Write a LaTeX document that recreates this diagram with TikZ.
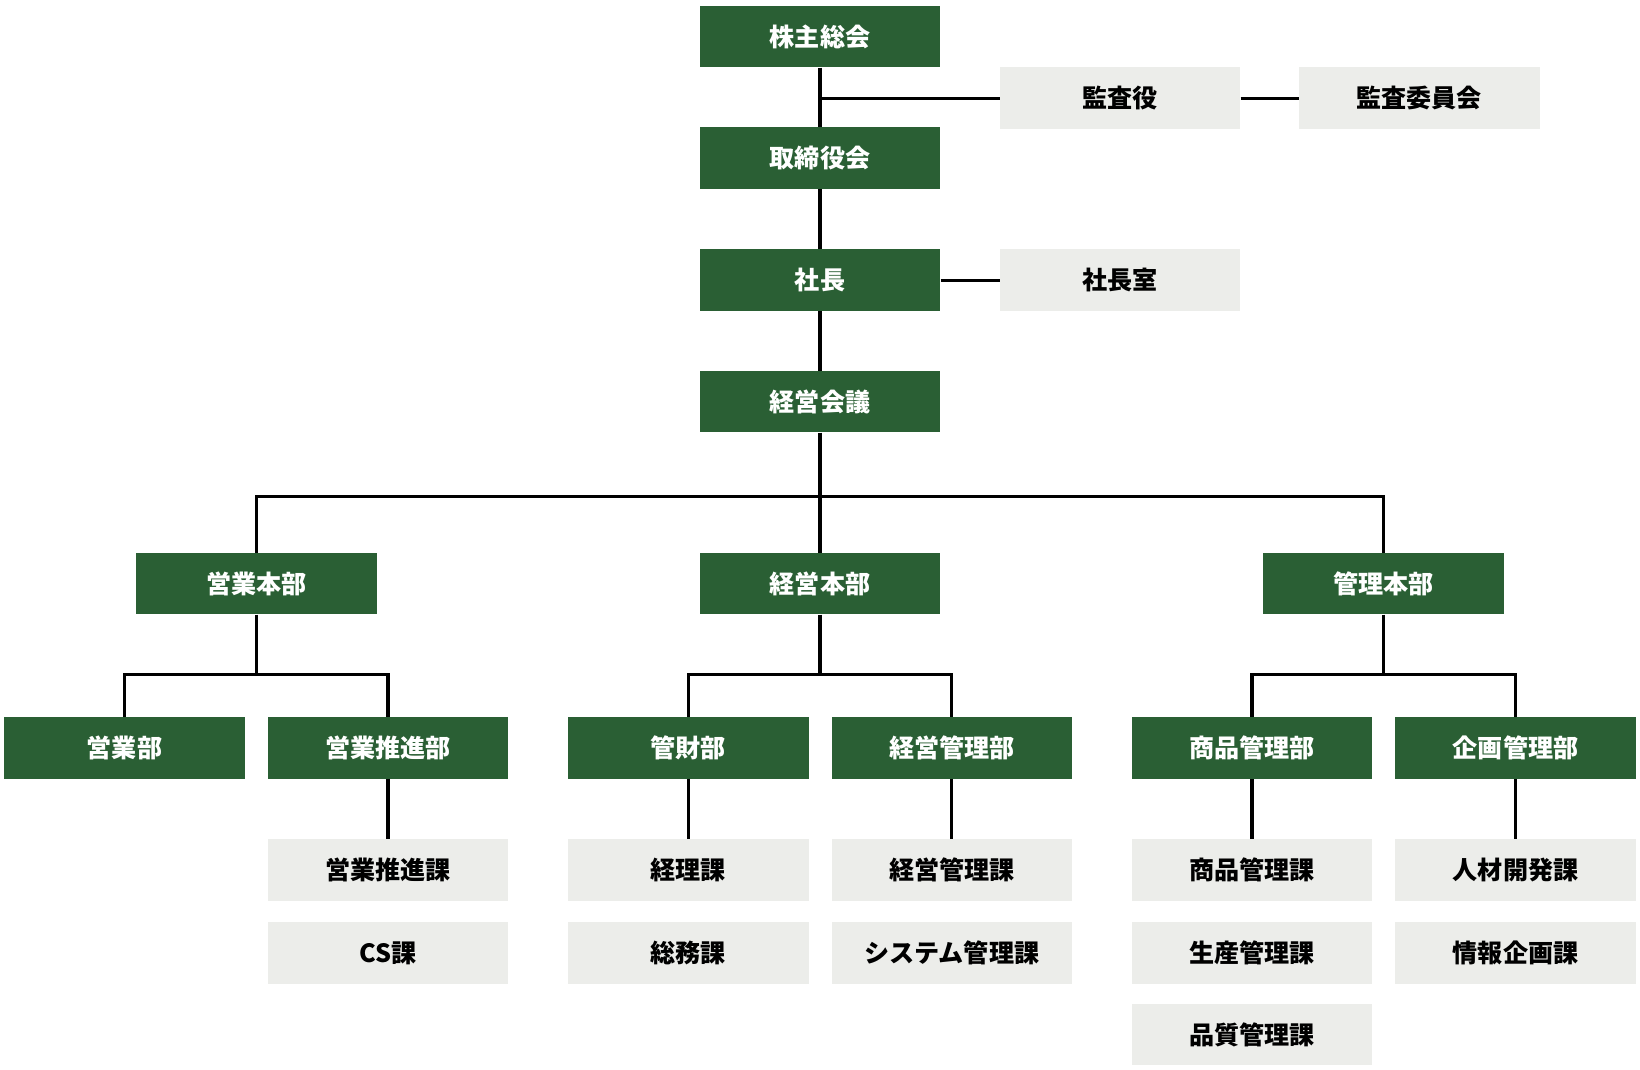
\documentclass[tikz,border=0pt]{standalone}
\usepackage{fontspec}
\setmainfont{Noto Sans CJK JP}
\usetikzlibrary{positioning}
\definecolor{boxgreen}{HTML}{2A5F34}
\definecolor{boxgray}{HTML}{ECEDEA}
\tikzset{
  org/.style={minimum width=230pt, minimum height=59pt, inner sep=0pt, font=\fontsize{24}{28}\selectfont\bfseries},
  head/.style={org, fill=boxgreen, text=white},
  sect/.style={org, fill=boxgray, text=black},
  link/.style={line width=3pt, black}
}
\begin{document}
\begin{tikzpicture}[x=1pt, y=-1pt]
\useasboundingbox (0,0) rectangle (1568,1023);
    % top of the company
    \node [head] (k1) at (784,35) {株主総会};
    \node [head] (k2) at (784,151) {取締役会};
    \node [head] (k3) at (784,268) {社長};
    \node [head] (k4) at (784,384) {経営会議};
    \node [sect] (a1) at (1071,94) {監査役};
    \node [sect] (a2) at (1357,94) {監査委員会};
    \node [sect] (a3) at (1071,268) {社長室};
    \coordinate (j1) at (784,94);

    % divisions
    \node [head] (b1) at (245,558) {営業本部};
    \node [head] (b2) at (784,558) {経営本部};
    \node [head] (b3) at (1323,558) {管理本部};

    % departments
    \node [head] (d1) at (119,715) {営業部};
    \node [head] (d2) at (371,715) {営業推進部};
    \node [head] (d3) at (658,715) {管財部};
    \node [head] (d4) at (910,715) {経営管理部};
    \node [head] (d5) at (1197,715) {商品管理部};
    \node [head] (d6) at (1449,715) {企画管理部};

    % sections
    \node [sect] (s1) at (371,832) {営業推進課};
    \node [sect] (s2) at (371,911) {CS課};
    \node [sect] (s3) at (658,832) {経理課};
    \node [sect] (s4) at (658,911) {総務課};
    \node [sect] (s5) at (910,832) {経営管理課};
    \node [sect] (s6) at (910,911) {システム管理課};
    \node [sect] (s7) at (1197,832) {商品管理課};
    \node [sect] (s8) at (1197,911) {生産管理課};
    \node [sect] (s9) at (1197,989) {品質管理課};
    \node [sect] (s10) at (1449,832) {人材開発課};
    \node [sect] (s11) at (1449,911) {情報企画課};

    \begin{scope}[link]
    \draw (k1) -- (k2) (k2) -- (k3) (k3) -- (k4);
    \draw (j1) -- (a1) (a1) -- (a2) (k3) -- (a3);
    \draw (k4) -- (b2);
    \draw (b1.north) -- ++(0,-54) -| (b3.north);
    \draw (b1.south) -- ++(0,57) coordinate (c1);
    \draw (d1.north) |- (c1) -| (d2.north);
    \draw (b2.south) -- ++(0,57) coordinate (c2);
    \draw (d3.north) |- (c2) -| (d4.north);
    \draw (b3.south) -- ++(0,57) coordinate (c3);
    \draw (d5.north) |- (c3) -| (d6.north);
    \draw (d2) -- (s1) (d3) -- (s3) (d4) -- (s5) (d5) -- (s7) (d6) -- (s10);
    \end{scope}
\end{tikzpicture}
\end{document}
